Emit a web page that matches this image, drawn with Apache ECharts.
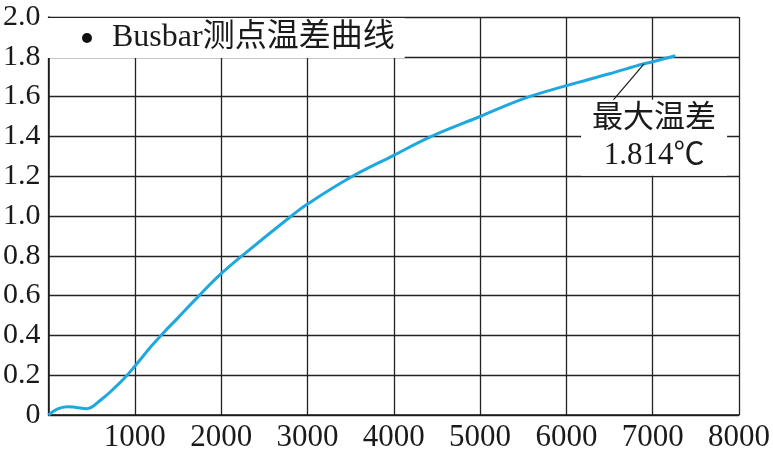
<!DOCTYPE html>
<html>
<head>
<meta charset="utf-8">
<script src="https://cdn.jsdelivr.net/npm/echarts@6/dist/echarts.min.js"></script>
<style>
  html, body { margin: 0; padding: 0; background: #fff; }
  #chart { width: 773px; height: 454px; }
</style>
</head>
<body>
<div id="chart"></div>
<script>
// 曲线数据
const seriesName = 'Busbar测点温差曲线';
const xValues = [0, 100, 215, 320, 442, 612, 765, 900, 1000, 1190, 1325, 1497, 1745, 2000, 2242, 2814, 3000, 3482, 4000, 4437, 5000, 5506, 6000, 6500, 6900, 7000, 7263];
const yValues = [0, 0.03, 0.042, 0.038, 0.032, 0.078, 0.136, 0.195, 0.245, 0.345, 0.41, 0.487, 0.6, 0.71, 0.8, 1.0, 1.06, 1.19, 1.305, 1.4, 1.5, 1.59, 1.655, 1.715, 1.765, 1.775, 1.805];
const xTickLabels = ['', '1000', '2000', '3000', '4000', '5000', '6000', '7000', '8000'];
const yTickLabels = ['0', '0.2', '0.4', '0.6', '0.8', '1.0', '1.2', '1.4', '1.6', '1.8', '2.0'];
const annotIndex = 24;
const annotText = '最大温差\n1.814℃';

const chart = echarts.init(document.getElementById('chart'));

const serif = '"Liberation Serif", "Noto Sans CJK SC", serif';

const data = xValues.map((x, i) => {
  const item = { value: [x, yValues[i]] };
  if (i === annotIndex) {
    item.label = {
      show: true,
      position: 'inside',
      formatter: annotText,
      fontFamily: serif,
      fontSize: 31,
      lineHeight: 37,
      color: '#1a1a1a',
      align: 'center',
      backgroundColor: '#fff',
      padding: [1, 11]
    };
  }
  return item;
});

const options = {
  animation: false,
  grid: { left: 46, right: 30, top: 17, bottom: 39 },
  legend: {
    data: [{ name: seriesName, icon: 'circle', itemStyle: { color: '#111' } }],
    left: 47,
    top: 18,
    itemWidth: 10,
    itemHeight: 10,
    padding: [4, 10, 4, 35],
    backgroundColor: '#fff',
    textStyle: {
      fontFamily: serif,
      fontSize: 32,
      lineHeight: 30,
      color: '#1a1a1a',
      padding: [0, 0, 0, 15]
    }
  },
  xAxis: {
    type: 'value',
    min: 0,
    max: 8000,
    interval: 1000,
    axisLine: { lineStyle: { color: '#1a1a1a', width: 1.5 } },
    axisTick: { show: false },
    axisLabel: {
      margin: 7,
      fontFamily: serif,
      fontSize: 31,
      color: '#1a1a1a',
      formatter: v => xTickLabels[Math.round(v / 1000)]
    },
    splitLine: { show: true, lineStyle: { color: '#222', width: 1.3 } }
  },
  yAxis: {
    type: 'value',
    min: 0,
    max: 2,
    interval: 0.2,
    axisLine: { show: true, lineStyle: { color: '#1a1a1a', width: 1.5 } },
    axisTick: { show: false },
    axisLabel: {
      margin: 8,
      fontFamily: serif,
      fontSize: 30,
      color: '#1a1a1a',
      formatter: v => yTickLabels[Math.round(v / 0.2)]
    },
    splitLine: { show: true, lineStyle: { color: '#222', width: 1.3 } }
  },
  series: [
    {
      name: seriesName,
      type: 'line',
      data: data,
      smooth: 0.4,
      showSymbol: true,
      symbol: 'circle',
      symbolSize: 0,
      lineStyle: { color: '#1fa8e0', width: 3 },
      itemStyle: { color: '#1fa8e0' },
      label: { show: false },
      labelLayout: { dx: 10, dy: 74 },
      labelLine: { show: true, lineStyle: { color: '#1a1a1a', width: 1.2 } }
    }
  ]
};

chart.setOption(options);
</script>
</body>
</html>
